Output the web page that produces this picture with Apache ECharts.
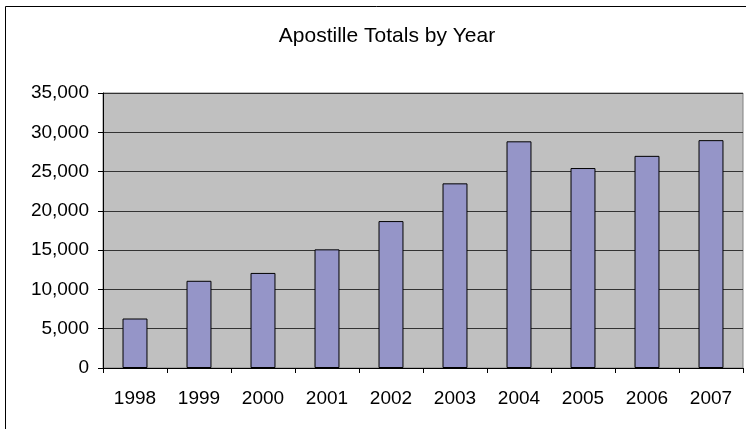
<!DOCTYPE html>
<html>
<head>
<meta charset="utf-8">
<script src="https://cdn.jsdelivr.net/npm/echarts@6/dist/echarts.min.js"></script>
<style>
html,body{margin:0;padding:0;background:#fff;}
#chart{width:746px;height:429px;}
</style>
</head>
<body>
<div id="chart"></div>
<script>
const titleText = 'Apostille Totals by Year';
const years = ['1998','1999','2000','2001','2002','2003','2004','2005','2006','2007'];
const totals = [6300, 11100, 12100, 15100, 18700, 23500, 28850, 25450, 27000, 29000];
const yMin = 0, yMax = 35000, yStep = 5000;

const FONT = '"Liberation Sans", Arial, sans-serif';
const chart = echarts.init(document.getElementById('chart'), null, {renderer: 'canvas'});
chart.setOption({
  animation: false,
  backgroundColor: '#ffffff',
  graphic: [{
    type: 'rect', z: -10,
    shape: {x: 5.5, y: 6.5, width: 800, height: 500},
    style: {fill: 'none', stroke: '#000', lineWidth: 1}
  }],
  title: {
    text: titleText,
    left: 382, top: 21,
    textAlign: 'center',
    textStyle: {fontFamily: FONT, fontSize: 21, fontWeight: 'normal', color: '#000'}
  },
  grid: {
    left: 103, right: 3, top: 93, bottom: 61,
    show: true, backgroundColor: '#C0C0C0', borderColor: '#808080', borderWidth: 1
  },
  xAxis: {
    type: 'category',
    data: years,
    axisLine: {lineStyle: {color: '#000', width: 1}},
    axisTick: {show: true, length: 5, lineStyle: {color: '#000'}},
    axisLabel: {margin: 21, fontFamily: FONT, fontSize: 19, color: '#000'}
  },
  yAxis: {
    type: 'value',
    min: yMin, max: yMax, interval: yStep,
    axisLine: {show: true, lineStyle: {color: '#000', width: 1}},
    axisTick: {show: true, length: 5, lineStyle: {color: '#000'}},
    splitLine: {show: true, lineStyle: {color: '#333', width: 1}},
    axisLabel: {
      margin: 14, fontFamily: FONT, fontSize: 19, color: '#000',
      formatter: v => v.toLocaleString('en-US')
    }
  },
  series: [{
    type: 'bar',
    data: totals,
    barCategoryGap: '61%',
    itemStyle: {color: '#9595C8', borderColor: '#000', borderWidth: 1}
  }]
});
</script>
</body>
</html>
